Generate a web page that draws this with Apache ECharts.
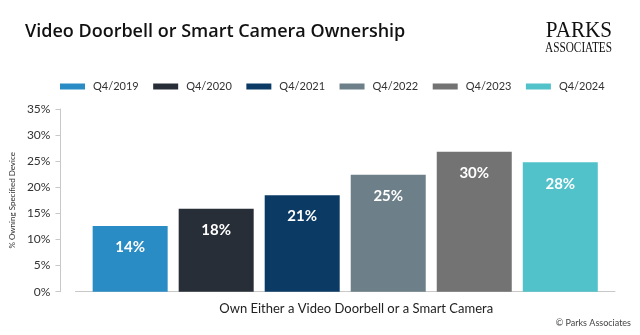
<!DOCTYPE html>
<html>
<head>
<meta charset="utf-8">
<script src="https://cdn.jsdelivr.net/npm/echarts@6/dist/echarts.min.js"></script>
<style>html,body{margin:0;padding:0;background:#fff;}#c{width:640px;height:335px;}</style>
</head>
<body>
<div id="c"></div>
<script>
const categories = ['Own Either a Video Doorbell or a Smart Camera'];
const seriesNames = ['Q4/2019', 'Q4/2020', 'Q4/2021', 'Q4/2022', 'Q4/2023', 'Q4/2024'];
const seriesValues = [12.6, 15.9, 18.5, 22.4, 26.8, 24.8];
const seriesLabels = ['14%', '18%', '21%', '25%', '30%', '28%'];
const seriesColors = ['#2a8cc4', '#282e37', '#0b3b65', '#6d7f88', '#737373', '#51c1ca'];
const yTicks = [0, 5, 10, 15, 20, 25, 30, 35];

const FONT = 'Lato, "Open Sans", sans-serif';
const chart = echarts.init(document.getElementById('c'), null, {renderer: 'canvas'});
const option = {
  animation: false,
  backgroundColor: '#fff',
  title: {
    text: 'Video Doorbell or Smart Camera Ownership',
    left: 20, top: 18,
    textStyle: {fontFamily: '"Open Sans", sans-serif', fontSize: 18, fontWeight: 600, color: '#111'}
  },
  legend: {
    data: seriesNames,
    left: 55, top: 76,
    itemWidth: 25, itemHeight: 6, itemGap: 14.5,
    icon: 'rect',
    textStyle: {fontFamily: FONT, fontSize: 11, color: '#333', padding: [0, 0, 0, 3]}
  },
  grid: {left: 75, right: 25, top: 109, bottom: 43.3},
  xAxis: {
    type: 'category',
    data: categories,
    axisLine: {lineStyle: {color: '#c8c8c8'}},
    axisTick: {show: false},
    axisLabel: {fontFamily: FONT, fontSize: 13, color: '#222', margin: 11, padding: [0, 0, 0, 22]}
  },
  yAxis: {
    type: 'value',
    min: yTicks[0], max: yTicks[yTicks.length - 1], interval: 5,
    offset: 15,
    name: '% Owning Specified Device',
    nameLocation: 'middle', nameGap: 38, nameRotate: 90,
    nameTextStyle: {fontFamily: FONT, fontSize: 8, color: '#333'},
    axisLine: {show: true, lineStyle: {color: '#c8c8c8'}},
    axisTick: {show: true, length: 5, lineStyle: {color: '#c8c8c8'}},
    splitLine: {show: false},
    axisLabel: {fontFamily: FONT, fontSize: 12, color: '#333', margin: 10, formatter: v => v + '%'}
  },
  series: seriesNames.map((name, i) => ({
    name: name,
    type: 'bar',
    data: [seriesValues[i]],
    barWidth: 75,
    barGap: '14.7%',
    itemStyle: {color: seriesColors[i]},
    label: {
      show: true, position: 'insideTop', distance: 14,
      formatter: () => seriesLabels[i],
      fontFamily: FONT, fontSize: 15, fontWeight: 'bold', color: '#fff'
    }
  })),
  graphic: [
    {type: 'text', x: 612, y: 31, scaleX: 0.88, scaleY: 1,
     style: {text: 'PARKS', x: 0, y: 0, align: 'right', verticalAlign: 'middle', font: '24px "Liberation Serif", serif', fill: '#111'}},
    {type: 'text', x: 612, y: 48, scaleX: 0.75, scaleY: 1,
     style: {text: 'ASSOCIATES', x: 0, y: 0, align: 'right', verticalAlign: 'middle', font: '15px "Liberation Serif", serif', fill: '#111'}},
    {type: 'text', right: 9, bottom: 7, style: {text: '© Parks Associates', font: '9px Lato, sans-serif', fill: '#444'}}
  ]
};
chart.setOption(option);
</script>
</body>
</html>
